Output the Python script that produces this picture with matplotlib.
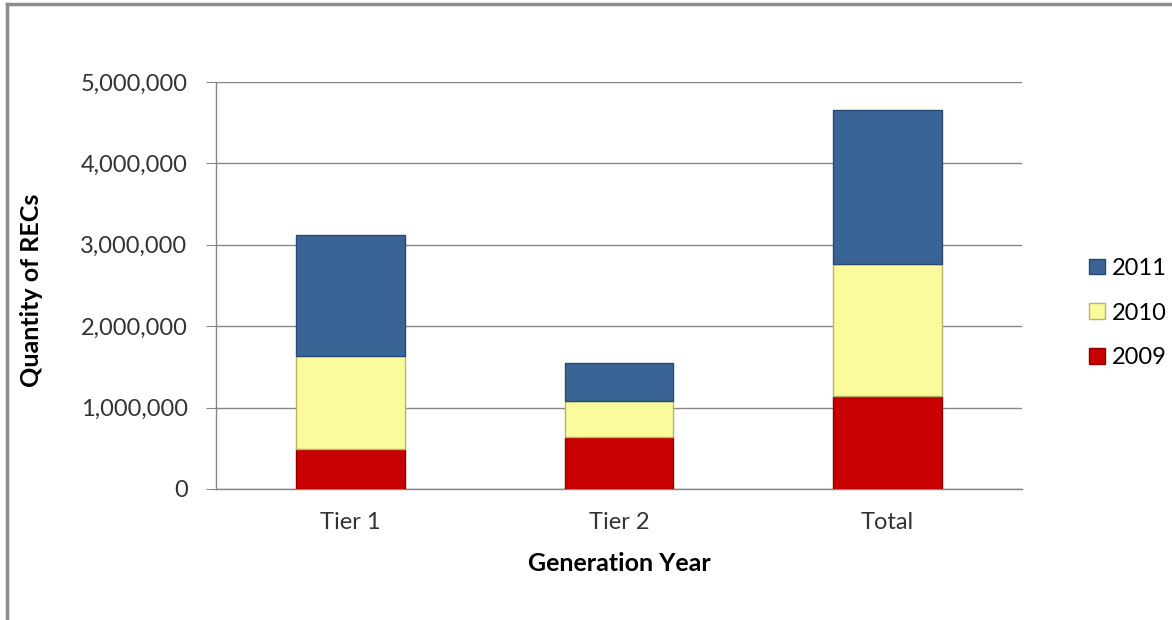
import matplotlib.pyplot as plt
import numpy as np
from matplotlib.lines import Line2D
from matplotlib.ticker import FuncFormatter

plt.rcParams['font.family'] = ['Lato', 'DejaVu Sans']

# Data
categories = ['Tier 1', 'Tier 2', 'Total']
years = ['2009', '2010', '2011']
recs_2009 = [491000, 634000, 1141000]
recs_2010 = [1141000, 449000, 1620000]
recs_2011 = [1485000, 459000, 1898000]

colors = {'2009': '#C80000', '2010': '#FBFB9C', '2011': '#3A6396'}
edges = {'2009': '#8E0000', '2010': '#B5B56A', '2011': '#294A73'}

fig = plt.figure(figsize=(11.72, 6.2), dpi=100)
ax = fig.add_axes([0.1843, 0.2113, 0.6877, 0.6564])

x = np.arange(len(categories))
width = 0.405
bottom = np.zeros(len(categories))
handles = []
for yr, vals in zip(years, [recs_2009, recs_2010, recs_2011]):
    b = ax.bar(x, vals, width, bottom=bottom, color=colors[yr],
               edgecolor=edges[yr], linewidth=1.0, label=yr, zorder=3)
    handles.append(b)
    bottom += np.array(vals)

ax.set_xlim(-0.5, 2.5)
ax.set_ylim(0, 5000000)
ax.set_yticks(np.arange(0, 5000001, 1000000))
ax.yaxis.set_major_formatter(FuncFormatter(lambda v, p: f'{int(v):,}'))
ax.set_xticks(x)
ax.set_xticklabels(categories)
ax.grid(axis='y', color='#868686', linewidth=1.0, zorder=0)

for s in ['top', 'right']:
    ax.spines[s].set_visible(False)
for s in ['left', 'bottom']:
    ax.spines[s].set_color('#868686')
    ax.spines[s].set_linewidth(1.0)
ax.tick_params(axis='y', length=7.5, color='#868686', labelsize=17, pad=13, labelcolor='#333333')
ax.tick_params(axis='x', length=0, labelsize=17, pad=16.5, labelcolor='#333333')

fig.text(32 / 1172, 1 - 290 / 620, 'Quantity of RECs', rotation=90, ha='center',
         va='center', fontsize=18, fontweight='bold')
fig.text(619 / 1172, 1 - 571 / 620, 'Generation Year', ha='center', va='baseline',
         fontsize=18, fontweight='bold')

leg = fig.legend(handles[::-1], years[::-1], loc='center left',
                 bbox_to_anchor=(1068 / 1172, 1 - 313 / 620), frameon=False,
                 fontsize=17, handlelength=0.65, handleheight=0.65, handletextpad=0.3,
                 labelspacing=1.0)

# outer frame (left and top only visible)
fig.add_artist(Line2D([7 / 1172, 7 / 1172], [0, 1 - 4 / 620], transform=fig.transFigure,
                      color='#8C8C8C', linewidth=2.5))
fig.add_artist(Line2D([7 / 1172, 1], [1 - 4 / 620, 1 - 4 / 620], transform=fig.transFigure,
                      color='#8C8C8C', linewidth=2.5))

fig.savefig('out.png', dpi=100)
